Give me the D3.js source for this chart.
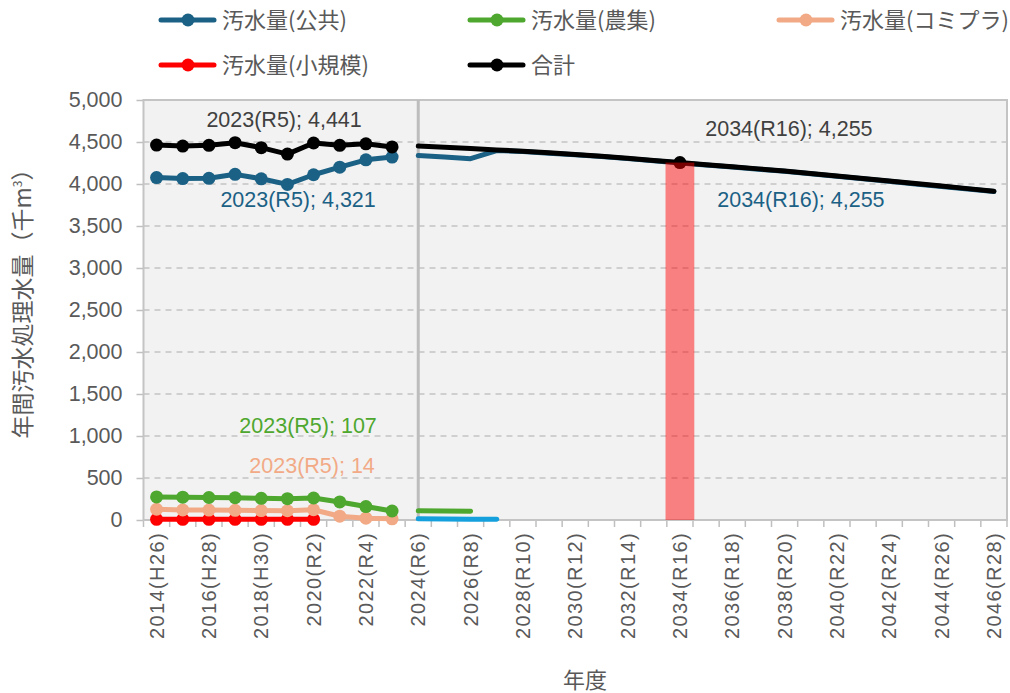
<!DOCTYPE html>
<html>
<head>
<meta charset="utf-8">
<script src="https://cdn.jsdelivr.net/npm/d3@7"></script>
<style>
  body { margin: 0; background: #fff; }
  svg { display: block; }
</style>
</head>
<body>
<div id="chart"></div>
<script>
// categories (fiscal years)
const years = [2014, 2015, 2016, 2017, 2018, 2019, 2020, 2021, 2022, 2023,
  2024, 2025, 2026, 2027, 2028, 2029, 2030, 2031, 2032, 2033, 2034,
  2035, 2036, 2037, 2038, 2039, 2040, 2041, 2042, 2043, 2044, 2045, 2046]
const tickLabels = ['2014(H26)', '2016(H28)', '2018(H30)', '2020(R2)', '2022(R4)',
  '2024(R6)', '2026(R8)', '2028(R10)', '2030(R12)', '2032(R14)', '2034(R16)',
  '2036(R18)', '2038(R20)', '2040(R22)', '2042(R24)', '2044(R26)', '2046(R28)']
const yTicks = [0, 500, 1000, 1500, 2000, 2500, 3000, 3500, 4000, 4500, 5000]

// actual values 2014-2023
const actualYears = [2014, 2015, 2016, 2017, 2018, 2019, 2020, 2021, 2022, 2023]
const koukyou = [4077, 4065, 4068, 4115, 4062, 3995, 4110, 4200, 4288, 4321]
const noushu = [275, 272, 268, 265, 258, 254, 262, 215, 160, 107]
const komipura = [128, 120, 118, 115, 112, 110, 122, 45, 22, 14]
const shoukibo = [8, 8, 8, 8, 8, 8, 8]
const goukei = [4463, 4452, 4460, 4492, 4433, 4356, 4488, 4460, 4478, 4441]

// projection 2024-2046
const planYears = [2024, 2025, 2026, 2027, 2028, 2029, 2030, 2031, 2032, 2033, 2034,
  2035, 2036, 2037, 2038, 2039, 2040, 2041, 2042, 2043, 2044, 2045, 2046]
const planGoukei = [4452, 4437, 4422, 4406, 4390, 4371, 4352, 4331, 4306, 4281, 4255,
  4230, 4205, 4180, 4155, 4126, 4096, 4066, 4036, 4005, 3975, 3945, 3915]
const planKoukyou = [4338, 4320, 4302, 4398, 4386, 4367, 4348, 4327, 4302, 4277, 4251,
  4226, 4201, 4176, 4151, 4122, 4092, 4062, 4032, 4001, 3971, 3941, 3911]
const planNoushu = [110, 108, 105]
const planKomipura = [14, 12, 10, 8]

const highlightYear = 2034
const highlightValue = 4255

const colors = {
  koukyou: '#1b6185',
  noushu: '#4ea72e',
  komipura: '#f2aa86',
  shoukibo: '#ff0000',
  goukei: '#000000',
  plan2: '#14a0dc'
}

const W = 1010
const H = 693
const plot = {left: 143.5, right: 1007, top: 100, bottom: 520}
const numFont = '"Liberation Sans", Arial, sans-serif'
const jpFont = '"Noto Sans CJK JP", sans-serif'
const textGray = '#595959'

const svg = d3.select('#chart').append('svg')
  .attr('width', W)
  .attr('height', H)

const x = d3.scaleBand().domain(years).range([plot.left, plot.right])
const y = d3.scaleLinear().domain([0, 5000]).range([plot.bottom, plot.top])
const cx = d => x(d) + x.bandwidth() / 2

// plot background
svg.append('rect')
  .attr('x', plot.left).attr('y', plot.top)
  .attr('width', plot.right - plot.left).attr('height', plot.bottom - plot.top)
  .attr('fill', '#f2f2f2')

// grid
svg.append('g')
  .selectAll('line')
  .data(yTicks.filter(d => d > 0 && d < 5000))
  .join('line')
  .attr('x1', plot.left).attr('x2', plot.right)
  .attr('y1', d => y(d)).attr('y2', d => y(d))
  .attr('stroke', '#c4c4c4')
  .attr('stroke-width', 1.3)
  .attr('stroke-dasharray', '6,5')

// y axis
const yAxis = svg.append('g')
  .attr('transform', 'translate(' + plot.left + ',0)')
  .call(d3.axisLeft(y).tickValues(yTicks).tickSize(7).tickPadding(14)
    .tickFormat(d3.format(',')))
yAxis.select('.domain').remove()
yAxis.selectAll('line').attr('stroke', '#bfbfbf').attr('stroke-width', 1.5)
yAxis.selectAll('text')
  .attr('fill', textGray)
  .style('font-family', numFont)
  .style('font-size', '21.5px')

// x axis ticks at band boundaries
svg.append('g')
  .selectAll('line')
  .data(years.concat([null]))
  .join('line')
  .attr('x1', (d, i) => plot.left + i * x.bandwidth())
  .attr('x2', (d, i) => plot.left + i * x.bandwidth())
  .attr('y1', plot.bottom).attr('y2', plot.bottom + 7)
  .attr('stroke', '#bfbfbf')
  .attr('stroke-width', 1.5)

svg.append('g')
  .selectAll('text')
  .data(tickLabels)
  .join('text')
  .attr('transform', d => 'translate(' + cx(+d.slice(0, 4)) + ',' + (plot.bottom + 12) + ') rotate(-90)')
  .attr('dy', '0.35em')
  .attr('text-anchor', 'end')
  .attr('fill', textGray)
  .style('font-family', numFont)
  .style('font-size', '20px')
  .style('letter-spacing', '1.4px')
  .text(d => d)

// plot border
svg.append('rect')
  .attr('x', plot.left).attr('y', plot.top)
  .attr('width', plot.right - plot.left).attr('height', plot.bottom - plot.top)
  .attr('fill', 'none')
  .attr('stroke', '#c4c4c4')
  .attr('stroke-width', 2)

// separator between actual and projection
svg.append('line')
  .attr('x1', cx(2024)).attr('x2', cx(2024))
  .attr('y1', plot.top).attr('y2', plot.bottom)
  .attr('stroke', '#bdbdbd')
  .attr('stroke-width', 3)

const line = d3.line()
  .defined(d => d.v != null)
  .x(d => cx(d.year))
  .y(d => y(d.v))

const pair = (yrs, vals) => vals.map((v, i) => ({year: yrs[i], v}))

function drawSeries (yrs, vals, color, markers) {
  const data = pair(yrs, vals)
  svg.append('path')
    .datum(data)
    .attr('fill', 'none')
    .attr('stroke', color)
    .attr('stroke-width', 5)
    .attr('stroke-linecap', 'round')
    .attr('stroke-linejoin', 'round')
    .attr('d', line)
  if (markers) {
    svg.append('g')
      .selectAll('circle')
      .data(data)
      .join('circle')
      .attr('cx', d => cx(d.year))
      .attr('cy', d => y(d.v))
      .attr('r', 6.5)
      .attr('fill', color)
  }
}

// projection lines
drawSeries(planYears.slice(0, planKomipura.length), planKomipura, colors.plan2, false)
drawSeries(planYears.slice(0, planNoushu.length), planNoushu, colors.noushu, false)
drawSeries(planYears, planKoukyou, colors.koukyou, false)
drawSeries(planYears, planGoukei, colors.goukei, false)
svg.append('circle')
  .attr('cx', cx(highlightYear))
  .attr('cy', y(highlightValue))
  .attr('r', 6.5)
  .attr('fill', colors.goukei)

// actual lines
drawSeries(actualYears.slice(0, shoukibo.length), shoukibo, colors.shoukibo, true)
drawSeries(actualYears, komipura, colors.komipura, true)
drawSeries(actualYears, noushu, colors.noushu, true)
drawSeries(actualYears, koukyou, colors.koukyou, true)
drawSeries(actualYears, goukei, colors.goukei, true)

// highlight bar for target year
const barW = x.bandwidth() * 1.1
svg.append('rect')
  .attr('x', cx(highlightYear) - barW / 2)
  .attr('y', y(highlightValue))
  .attr('width', barW)
  .attr('height', y(0) - y(highlightValue))
  .attr('fill', '#ff0000')
  .attr('fill-opacity', 0.47)

// data labels
const labels = [
  {year: 2023, v: 4441, text: '2023(R5); 4,441', dx: -108, dy: -20, color: '#404040'},
  {year: 2023, v: 4321, text: '2023(R5); 4,321', dx: -94, dy: 50, color: colors.koukyou},
  {year: 2023, v: 107, text: '2023(R5); 107', dx: -84, dy: -78, color: colors.noushu},
  {year: 2023, v: 14, text: '2023(R5); 14', dx: -80, dy: -46, color: colors.komipura},
  {year: 2034, v: 4255, text: '2034(R16); 4,255', dx: 109, dy: -27, color: '#404040'},
  {year: 2034, v: 4255, text: '2034(R16); 4,255', dx: 121, dy: 44, color: colors.koukyou}
]
svg.append('g')
  .selectAll('text')
  .data(labels)
  .join('text')
  .attr('x', d => cx(d.year) + d.dx)
  .attr('y', d => y(d.v) + d.dy)
  .attr('text-anchor', 'middle')
  .attr('fill', d => d.color)
  .style('font-family', numFont)
  .style('font-size', '21.5px')
  .text(d => d.text)

// axis titles
svg.append('text')
  .attr('transform', 'translate(23,298) rotate(-90)')
  .attr('text-anchor', 'middle')
  .attr('dy', '0.35em')
  .attr('fill', textGray)
  .style('font-family', jpFont)
  .style('font-size', '23px')
  .html('年間汚水処理水量（千m<tspan dy="-9" font-size="12px">3</tspan><tspan dy="9">）</tspan>')

svg.append('text')
  .attr('x', 585).attr('y', 688)
  .attr('text-anchor', 'middle')
  .attr('fill', textGray)
  .style('font-family', jpFont)
  .style('font-size', '22px')
  .text('年度')

// legend
const legendItems = [
  {name: '汚水量(公共)', color: colors.koukyou, x: 161, y: 20},
  {name: '汚水量(農集)', color: colors.noushu, x: 470, y: 20},
  {name: '汚水量(コミプラ)', color: colors.komipura, x: 779, y: 20},
  {name: '汚水量(小規模)', color: colors.shoukibo, x: 161, y: 65},
  {name: '合計', color: colors.goukei, x: 470, y: 65}
]
const legend = svg.append('g')
  .selectAll('g')
  .data(legendItems)
  .join('g')
  .attr('transform', d => 'translate(' + d.x + ',' + d.y + ')')
legend.append('line')
  .attr('x1', 0).attr('x2', 53)
  .attr('stroke', d => d.color)
  .attr('stroke-width', 5)
  .attr('stroke-linecap', 'round')
legend.append('circle')
  .attr('cx', 27).attr('r', 6.5)
  .attr('fill', d => d.color)
legend.append('text')
  .attr('x', 61)
  .attr('dy', '0.35em')
  .attr('fill', textGray)
  .style('font-family', jpFont)
  .style('font-size', '22px')
  .text(d => d.name)
</script>
</body>
</html>
